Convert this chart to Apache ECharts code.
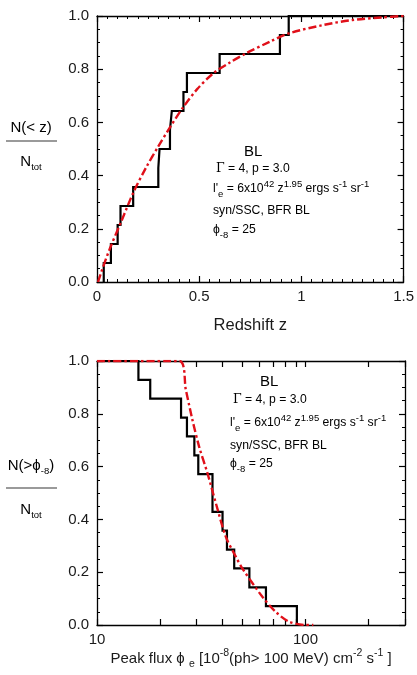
<!DOCTYPE html>
<html><head><meta charset="utf-8">
<script src="https://cdn.jsdelivr.net/npm/echarts@6/dist/echarts.min.js"></script>
<style>html,body{margin:0;padding:0;background:#fff}#c{width:417px;height:675px}</style>
</head><body><div id="c"></div>
<script>
// ---- data ----
const zTickLabels = [0, 0.5, 1, 1.5];
const fracTickLabels = [0.0, 0.2, 0.4, 0.6, 0.8, 1.0];
const fluxTickLabels = [10, 100];
const fluxTicks = [10, 20, 30, 40, 50, 60, 70, 80, 90, 100, 200, 300];

// redshifts of the 14 BL objects (cumulative N(<z))
const zObjects = [0.033, 0.068, 0.101, 0.115, 0.177, 0.300, 0.306, 0.357, 0.366, 0.423, 0.440, 0.600, 0.895, 0.938];
// model curve N(<z)/Ntot
const zModelX = [0.005, 0.02, 0.06, 0.12, 0.18, 0.24, 0.30, 0.36, 0.42, 0.49, 0.57, 0.65, 0.73, 0.85, 0.94, 1.10, 1.25, 1.40, 1.50];
const zModelY = [0.0, 0.035, 0.12, 0.23, 0.34, 0.43, 0.51, 0.585, 0.655, 0.725, 0.785, 0.825, 0.86, 0.905, 0.935, 0.965, 0.985, 0.995, 1.0];

// peak fluxes of the 14 BL objects (N(>phi))
const fluxObjects = [15.8, 18.0, 25.3, 27.0, 29.3, 30.6, 35.8, 35.8, 40.0, 42.0, 45.5, 53.8, 64.6, 90.9];
// model curve N(>phi)/Ntot
const fluxModelX = [10, 24.8, 26.7, 28.7, 30.9, 33.9, 37.2, 41.5, 46.3, 49.8, 62.1, 71.9, 83.2, 100, 109];
const fluxModelY = [1.0, 1.0, 0.889, 0.776, 0.675, 0.574, 0.46, 0.334, 0.259, 0.214, 0.107, 0.05, 0.013, 0.0, 0.0];

// ---- build ----
const N = zObjects.length;
const zMax = zTickLabels[zTickLabels.length - 1];
const stepsZ = [];
zObjects.forEach((z, i) => { stepsZ.push([z, i / N]); stepsZ.push([z, (i + 1) / N]); });
stepsZ.push([zMax, 1]);

const M = fluxObjects.length;
const stepsF = [[fluxTicks[0], 1]];
fluxObjects.forEach((f, i) => { stepsF.push([f, (M - i) / M]); stepsF.push([f, (M - i - 1) / M]); });

const FONT = 'Liberation Sans, Arial, Helvetica, sans-serif';
const AX = { color: '#000', width: 1.3 };
const txt = '#1a1a1a';

function valAxisX(grid, pos, showLabel, extra) {
  return Object.assign({
    gridIndex: grid, position: pos, type: 'value',
    axisLine: { show: true, onZero: false, lineStyle: AX },
    axisTick: { show: true, inside: true, length: 6, lineStyle: { color: '#000', width: 1.2 } },
    minorTick: { show: true, splitNumber: 10, length: 3, lineStyle: { color: '#000', width: 1 } },
    splitLine: { show: false }, minorSplitLine: { show: false },
    axisLabel: { show: showLabel, fontSize: 15, color: txt, fontFamily: FONT, margin: 7 }
  }, extra);
}
function fracAxis(grid, pos, showLabel) {
  return {
    gridIndex: grid, position: pos, type: 'value', min: fracTickLabels[0], max: fracTickLabels[fracTickLabels.length - 1], interval: 0.2,
    axisLine: { show: true, onZero: false, lineStyle: AX },
    axisTick: { show: true, inside: true, length: 6, lineStyle: { color: '#000', width: 1.2 } },
    minorTick: { show: true, splitNumber: 4, length: 3, lineStyle: { color: '#000', width: 1 } },
    splitLine: { show: false }, minorSplitLine: { show: false },
    axisLabel: { show: showLabel, fontSize: 15, color: txt, fontFamily: FONT, margin: 8, formatter: v => v.toFixed(1) }
  };
}
function logAxisX(pos, showLabel, extra) {
  return Object.assign({
    gridIndex: 1, position: pos, type: 'log', logBase: 10, min: fluxTicks[0], max: fluxTicks[fluxTicks.length - 1],
    axisLine: { show: true, onZero: false, lineStyle: AX },
    axisTick: { show: true, inside: true, length: 6, customValues: fluxTicks, lineStyle: { color: '#000', width: 1.2 } },
    minorTick: { show: false },
    splitLine: { show: false },
    axisLabel: { show: showLabel, customValues: fluxTickLabels, fontSize: 15, color: txt, fontFamily: FONT, margin: 7 }
  }, extra);
}

const supSub = {
  m: { fontSize: 12.2, fontFamily: FONT, color: txt, lineHeight: 20 },
  b: { fontSize: 15, fontFamily: FONT, color: txt, lineHeight: 20 },
  t: { fontSize: 15, fontFamily: FONT, color: txt, lineHeight: 22 },
  sup: { fontSize: 9.5, fontFamily: FONT, color: txt, verticalAlign: 'top', lineHeight: 20 },
  sub: { fontSize: 9.5, fontFamily: FONT, color: txt, verticalAlign: 'bottom', lineHeight: 20 },
  tsup: { fontSize: 10.5, fontFamily: FONT, color: txt, verticalAlign: 'top', lineHeight: 22 },
  tsub: { fontSize: 10.5, fontFamily: FONT, color: txt, verticalAlign: 'bottom', lineHeight: 22 },
  g: { fontSize: 12.5, fontFamily: 'DejaVu Serif, serif', color: txt, lineHeight: 20 }
};

function annotation(x0, yBL, xBL, xG, ys) {
  return [
    { type: 'text', x: xBL, y: yBL, style: { text: '{b|BL}', rich: supSub, align: 'left', verticalAlign: 'middle' } },
    { type: 'text', x: xG, y: ys[0], style: { text: '{g|\u0393}{m| = 4, p = 3.0}', rich: supSub, align: 'left', verticalAlign: 'middle' } },
    { type: 'text', x: x0, y: ys[1], style: { text: "{m|l'}{sub|e}{m| = 6x10}{sup|42}{m| z}{sup|1.95}{m| ergs s}{sup|-1}{m| sr}{sup|-1}", rich: supSub, align: 'left', verticalAlign: 'middle' } },
    { type: 'text', x: x0, y: ys[2], style: { text: '{m|syn/SSC, BFR BL}', rich: supSub, align: 'left', verticalAlign: 'middle' } },
    { type: 'text', x: x0, y: ys[3], style: { text: '{m|\u03d5}{sub|-8}{m| = 25}', rich: supSub, align: 'left', verticalAlign: 'middle' } }
  ];
}

function yTitle(topText, yTop, yLine, yBot) {
  return [
    { type: 'text', x: 31, y: yTop, style: { text: topText, rich: supSub, align: 'center', verticalAlign: 'middle' } },
    { type: 'line', shape: { x1: 6, y1: yLine, x2: 57, y2: yLine }, style: { stroke: '#9a9a9a', lineWidth: 2 } },
    { type: 'text', x: 31, y: yBot, style: { text: '{b|N}{sub|tot}', rich: supSub, align: 'center', verticalAlign: 'middle' } }
  ];
}

const chart = echarts.init(document.getElementById('c'), null, { renderer: 'canvas' });
chart.setOption({
  animation: false,
  backgroundColor: '#fff',
  grid: [
    { left: 97, top: 16, width: 308, height: 266 },
    { left: 97, top: 361, width: 308, height: 264 }
  ],
  xAxis: [
    valAxisX(0, 'bottom', true, {
      min: zTickLabels[0], max: zMax, interval: 0.5,
      axisLabel: { show: true, fontSize: 15, color: txt, fontFamily: FONT, margin: 7, formatter: v => String(v) },
      name: 'Redshift z', nameLocation: 'middle', nameGap: 35,
      nameTextStyle: { fontSize: 16.5, color: txt, fontFamily: FONT }
    }),
    valAxisX(0, 'top', false, { min: zTickLabels[0], max: zMax, interval: 0.5 }),
    logAxisX('bottom', true, {
      name: '{t|Peak flux \u03d5 }{tsub|e}{t| [10}{tsup|-8}{t|(ph> 100 MeV) cm}{tsup|-2}{t| s}{tsup|-1}{t| ]}',
      nameLocation: 'middle', nameGap: 23,
      nameTextStyle: { rich: supSub }
    }),
    logAxisX('top', false, {})
  ],
  yAxis: [
    fracAxis(0, 'left', true),
    fracAxis(0, 'right', false),
    fracAxis(1, 'left', true),
    fracAxis(1, 'right', false)
  ],
  series: [
    { type: 'line', xAxisIndex: 0, yAxisIndex: 0, data: stepsZ, showSymbol: false, symbol: 'none',
      lineStyle: { color: '#000', width: 2.2, join: 'miter', cap: 'butt' }, z: 3 },
    { type: 'line', xAxisIndex: 0, yAxisIndex: 0, data: zModelX.map((x, i) => [x, zModelY[i]]), smooth: 0.3, showSymbol: false, symbol: 'none',
      lineStyle: { color: '#e0101a', width: 2.4, type: [8, 3, 2.5, 3] }, z: 4 },
    { type: 'line', xAxisIndex: 2, yAxisIndex: 2, data: stepsF, showSymbol: false, symbol: 'none',
      lineStyle: { color: '#000', width: 2.2, join: 'miter', cap: 'butt' }, z: 3 },
    { type: 'line', xAxisIndex: 2, yAxisIndex: 2, data: fluxModelX.map((x, i) => [x, fluxModelY[i]]), smooth: 0.3, showSymbol: false, symbol: 'none',
      lineStyle: { color: '#e0101a', width: 2.4, type: [8, 3, 2.5, 3] }, z: 4 }
  ],
  graphic: [].concat(
    annotation(213, 152, 244, 216, [169, 189, 211, 230]),
    annotation(230, 382, 260, 233, [400, 423, 446, 464]),
    yTitle('{b|N(< z)}', 128, 141, 162),
    yTitle('{b|N(>\u03d5}{sub|-8}{b|)}', 466, 488, 510)
  )
});
</script>
</body></html>
